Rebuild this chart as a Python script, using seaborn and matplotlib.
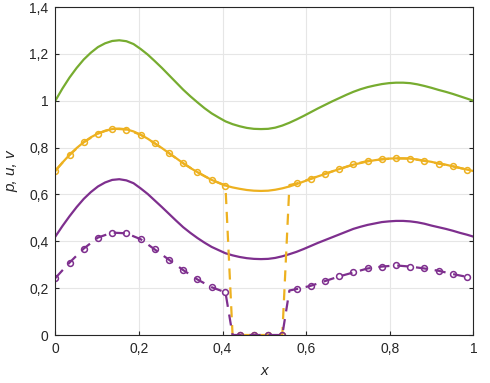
import numpy as np
import pandas as pd
import matplotlib
matplotlib.use("Agg")
import matplotlib.pyplot as plt
import seaborn as sns

# ---- data ----
# marker grid (30 points, step ~0.034)
x_marker = [0.0, 0.034, 0.068, 0.102, 0.136, 0.170, 0.204, 0.238, 0.272, 0.306,
            0.340, 0.374, 0.407, 0.441, 0.475, 0.509, 0.543, 0.577, 0.611, 0.645,
            0.679, 0.713, 0.747, 0.781, 0.815, 0.849, 0.883, 0.917, 0.951, 0.985]
# smooth curves sampled on a half-step grid
x_curve = [0.0, 0.017, 0.034, 0.051, 0.068, 0.085, 0.102, 0.119, 0.136, 0.153,
           0.170, 0.187, 0.204, 0.221, 0.238, 0.255, 0.272, 0.289, 0.306, 0.323,
           0.340, 0.357, 0.374, 0.391, 0.407, 0.424, 0.441, 0.458, 0.475, 0.492,
           0.509, 0.526, 0.543, 0.560, 0.577, 0.594, 0.611, 0.628, 0.645, 0.662,
           0.679, 0.696, 0.713, 0.730, 0.747, 0.764, 0.781, 0.798, 0.815, 0.832,
           0.849, 0.866, 0.883, 0.900, 0.917, 0.934, 0.951, 0.968, 0.985, 1.0]
p_exact = [1.000, 1.052, 1.099, 1.140, 1.176, 1.205, 1.229, 1.245, 1.255, 1.258,
           1.254, 1.242, 1.221, 1.197, 1.169, 1.140, 1.109, 1.078, 1.047, 1.019,
           0.993, 0.968, 0.946, 0.928, 0.912, 0.900, 0.891, 0.884, 0.880, 0.879,
           0.880, 0.885, 0.894, 0.906, 0.920, 0.935, 0.951, 0.967, 0.982, 0.997,
           1.011, 1.025, 1.038, 1.049, 1.058, 1.065, 1.071, 1.075, 1.077, 1.077,
           1.075, 1.070, 1.063, 1.055, 1.046, 1.038, 1.029, 1.019, 1.009, 1.000]
u_exact = [0.700, 0.736, 0.769, 0.798, 0.823, 0.844, 0.860, 0.872, 0.879, 0.881,
           0.878, 0.869, 0.855, 0.838, 0.818, 0.798, 0.776, 0.755, 0.733, 0.713,
           0.695, 0.678, 0.662, 0.650, 0.638, 0.630, 0.624, 0.619, 0.616, 0.615,
           0.616, 0.620, 0.626, 0.634, 0.644, 0.655, 0.666, 0.677, 0.687, 0.698,
           0.708, 0.718, 0.727, 0.734, 0.741, 0.746, 0.750, 0.753, 0.754, 0.754,
           0.753, 0.749, 0.744, 0.739, 0.732, 0.727, 0.720, 0.713, 0.706, 0.700]
v_exact = [0.420, 0.465, 0.507, 0.546, 0.581, 0.610, 0.634, 0.651, 0.662, 0.665,
           0.660, 0.648, 0.626, 0.602, 0.574, 0.546, 0.517, 0.488, 0.460, 0.436,
           0.414, 0.394, 0.376, 0.362, 0.349, 0.340, 0.333, 0.328, 0.325, 0.324,
           0.325, 0.329, 0.336, 0.345, 0.355, 0.367, 0.380, 0.393, 0.405, 0.417,
           0.429, 0.441, 0.453, 0.462, 0.470, 0.476, 0.482, 0.485, 0.487, 0.487,
           0.485, 0.481, 0.475, 0.467, 0.460, 0.453, 0.445, 0.436, 0.428, 0.420]
# numerical solution at markers
u_num = [0.702, 0.769, 0.823, 0.860, 0.881, 0.877, 0.855, 0.818, 0.776, 0.733,
         0.695, 0.662, 0.637, 0.0, 0.0, 0.0, 0.0, 0.647, 0.667, 0.688,
         0.708, 0.728, 0.743, 0.750, 0.754, 0.753, 0.743, 0.732, 0.720, 0.706]
v_num = [0.243, 0.309, 0.369, 0.416, 0.437, 0.434, 0.409, 0.365, 0.321, 0.277,
         0.237, 0.204, 0.182, 0.0, 0.0, 0.0, 0.0, 0.196, 0.210, 0.230,
         0.250, 0.267, 0.284, 0.292, 0.297, 0.292, 0.284, 0.274, 0.260, 0.248]
# extra vertices of the dashed lines at the edges of the gap
x_gap = [0.424, 0.560]
u_gap = [0.0, 0.640]
v_gap = [0.0, 0.190]

xticks = [0, 0.2, 0.4, 0.6, 0.8, 1.0]
xtick_labels = ["0", "0,2", "0,4", "0,6", "0,8", "1"]
yticks = [0, 0.2, 0.4, 0.6, 0.8, 1.0, 1.2, 1.4]
ytick_labels = ["0", "0,2", "0,4", "0,6", "0,8", "1", "1,2", "1,4"]

GREEN = "#77AC30"
YELLOW = "#EDB120"
PURPLE = "#7E2F8E"

sns.set_theme(style="whitegrid")
plt.rcParams["font.family"] = ["Liberation Sans", "DejaVu Sans"]

fig = plt.figure(figsize=(4.9, 3.83), dpi=100)
ax = fig.add_axes([0.1129, 0.1253, 0.966 - 0.1129, 0.9817 - 0.1253])

curves = pd.DataFrame({"x": x_curve, "p": p_exact, "u": u_exact, "v": v_exact})
nums = pd.DataFrame({"x": x_marker, "u": u_num, "v": v_num})
dashed = pd.concat([nums, pd.DataFrame({"x": x_gap, "u": u_gap, "v": v_gap})]).sort_values("x")

lw = 1.6
dash = (0, (5, 3.5))
sns.lineplot(data=curves, x="x", y="p", color=GREEN, lw=lw, ax=ax, sort=False)
sns.lineplot(data=curves, x="x", y="v", color=PURPLE, lw=lw, ax=ax, sort=False)
sns.lineplot(data=curves, x="x", y="u", color=YELLOW, lw=lw, ax=ax, sort=False)

sns.lineplot(data=dashed, x="x", y="u", color=YELLOW, lw=lw, ax=ax, sort=False,
             linestyle=dash)
ax.plot(nums["x"], nums["u"], linestyle="none", marker="o", ms=4.2, mew=1.1,
        mfc="none", mec=YELLOW)
sns.lineplot(data=dashed, x="x", y="v", color=PURPLE, lw=lw, ax=ax, sort=False,
             linestyle=dash)
ax.plot(nums["x"], nums["v"], linestyle="none", marker="o", ms=4.2, mew=1.1,
        mfc="none", mec=PURPLE)

ax.set_xlim(0, 1)
ax.set_ylim(0, 1.4)
ax.set_xticks(xticks)
ax.set_xticklabels(xtick_labels)
ax.set_yticks(yticks)
ax.set_yticklabels(ytick_labels)
ax.grid(True, color="#e6e6e6", lw=0.8)
for s in ax.spines.values():
    s.set_visible(True)
    s.set_color("#262626")
    s.set_linewidth(0.8)
ax.tick_params(axis="both", which="both", direction="in", length=3, width=0.8,
               colors="#262626", labelsize=10, pad=5,
               top=False, right=True, left=True, bottom=True)
ax.set_xlabel("x", fontsize=11, style="italic", color="#262626", labelpad=6)
ax.set_ylabel("p, u, v", fontsize=11, style="italic", color="#262626", labelpad=8)

fig.savefig("out.png", dpi=100)
